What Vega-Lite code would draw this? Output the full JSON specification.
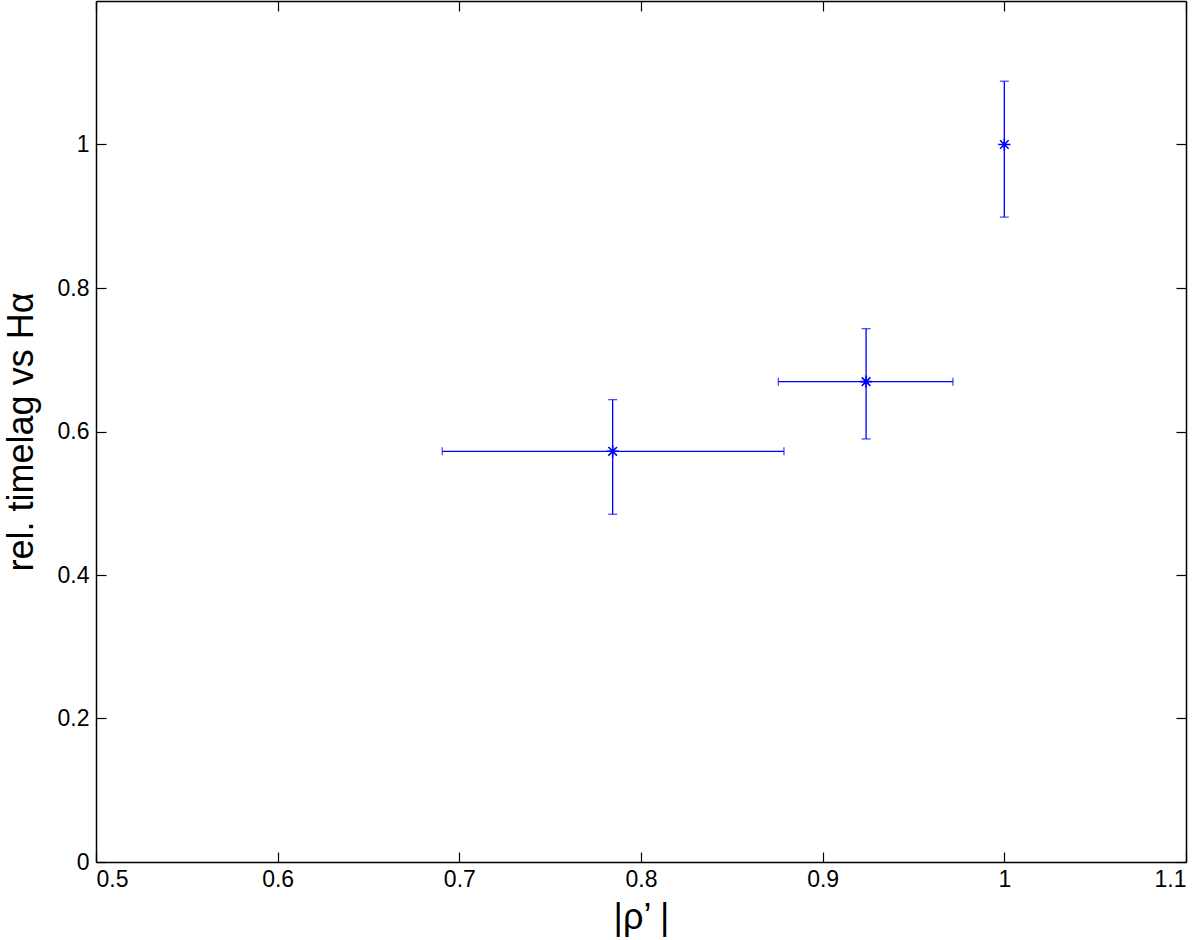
{
  "$schema": "https://vega.github.io/schema/vega-lite/v6.json",
  "width": 1090,
  "height": 861,
  "autosize": {"type": "none"},
  "padding": {"left": 96, "top": 1, "right": 14, "bottom": 78},
  "background": "white",
  "config": {
    "view": {"stroke": null},
    "axis": {
      "grid": false,
      "domainColor": "black",
      "domainWidth": 1.5,
      "tickColor": "black",
      "tickWidth": 1.2,
      "tickSize": -10,
      "labelFont": "Liberation Sans",
      "labelFontSize": 23,
      "labelColor": "black",
      "titleFont": "Liberation Sans",
      "titleFontSize": 36,
      "titleFontWeight": "normal",
      "titleColor": "black"
    }
  },
  "data": {
    "values": [
      {"x": 0.7844, "y": 0.5724, "xlo": 0.6906, "xhi": 0.8787, "ylo": 0.4847, "yhi": 0.6444},
      {"x": 0.9239, "y": 0.6695, "xlo": 0.8756, "xhi": 0.9717, "ylo": 0.5896, "yhi": 0.7433},
      {"x": 1.0, "y": 1.0, "xlo": null, "xhi": null, "ylo": 0.8988, "yhi": 1.0882}
    ]
  },
  "layer": [
    {
      "mark": {"type": "rule", "color": "#0000ff", "strokeWidth": 1.3},
      "encoding": {
        "x": {
          "field": "x", "type": "quantitative",
          "scale": {"domain": [0.5, 1.1], "nice": false, "zero": false},
          "axis": {"orient": "bottom", "values": [0.5, 0.6, 0.7, 0.8, 0.9, 1.0, 1.1], "format": "~g", "title": "|ρ’ |", "labelPadding": 16, "titlePadding": 9}
        },
        "y": {
          "field": "ylo", "type": "quantitative",
          "scale": {"domain": [0, 1.2], "nice": false, "zero": false},
          "axis": {"orient": "left", "values": [0, 0.2, 0.4, 0.6, 0.8, 1.0], "format": "~g", "title": "rel. timelag vs Hα", "labelPadding": 17, "titlePadding": 17}
        },
        "y2": {"field": "yhi"}
      }
    },
    {
      "transform": [{"filter": "datum.xlo != null"}],
      "mark": {"type": "rule", "color": "#0000ff", "strokeWidth": 1.3},
      "encoding": {
        "x": {
          "field": "xlo", "type": "quantitative",
          "axis": {"orient": "top", "values": [0.5, 0.6, 0.7, 0.8, 0.9, 1.0, 1.1], "labels": false, "title": null}
        },
        "x2": {"field": "xhi"},
        "y": {
          "field": "y", "type": "quantitative",
          "axis": {"orient": "right", "values": [0, 0.2, 0.4, 0.6, 0.8, 1.0], "labels": false, "title": null}
        }
      }
    },
    {
      "mark": {"type": "tick", "orient": "horizontal", "color": "#0000ff", "size": 9, "thickness": 1.3},
      "encoding": {
        "x": {"field": "x", "type": "quantitative", "axis": null},
        "y": {"field": "ylo", "type": "quantitative", "axis": null}
      }
    },
    {
      "mark": {"type": "tick", "orient": "horizontal", "color": "#0000ff", "size": 9, "thickness": 1.3},
      "encoding": {
        "x": {"field": "x", "type": "quantitative", "axis": null},
        "y": {"field": "yhi", "type": "quantitative", "axis": null}
      }
    },
    {
      "transform": [{"filter": "datum.xlo != null"}],
      "mark": {"type": "tick", "orient": "vertical", "color": "#0000ff", "size": 8, "thickness": 1.3},
      "encoding": {
        "x": {"field": "xlo", "type": "quantitative", "axis": null},
        "y": {"field": "y", "type": "quantitative", "axis": null}
      }
    },
    {
      "transform": [{"filter": "datum.xlo != null"}],
      "mark": {"type": "tick", "orient": "vertical", "color": "#0000ff", "size": 8, "thickness": 1.3},
      "encoding": {
        "x": {"field": "xhi", "type": "quantitative", "axis": null},
        "y": {"field": "y", "type": "quantitative", "axis": null}
      }
    },
    {
      "mark": {
        "type": "point",
        "shape": "M-1,0L1,0M0,-1L0,1M-0.7,-0.7L0.7,0.7M-0.7,0.7L0.7,-0.7",
        "filled": false,
        "color": "#0000ff",
        "strokeWidth": 1.6,
        "size": 150,
        "opacity": 1
      },
      "encoding": {
        "x": {"field": "x", "type": "quantitative", "axis": null},
        "y": {"field": "y", "type": "quantitative", "axis": null}
      }
    }
  ]
}
